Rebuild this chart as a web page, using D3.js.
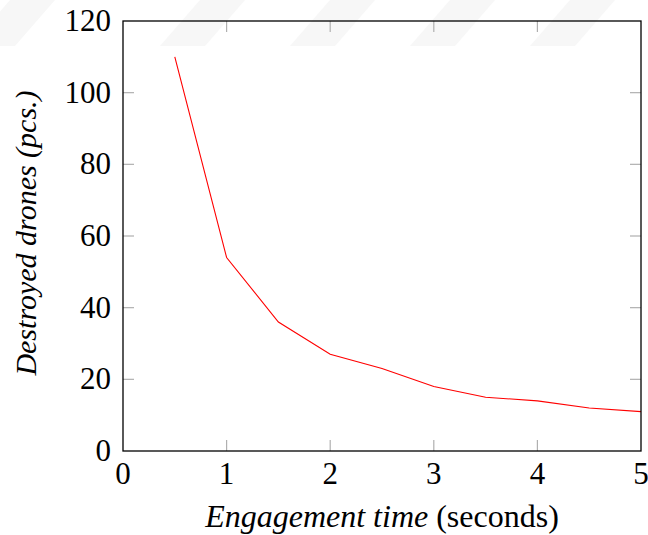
<!DOCTYPE html>
<html>
<head>
<meta charset="utf-8">
<script src="https://cdn.jsdelivr.net/npm/d3@7"></script>
<style>
  body { margin: 0; background: #fff; }
</style>
</head>
<body>
<svg></svg>
<script>
let width = 648;
let height = 535;

// data
let times = [0.5, 1, 1.5, 2, 2.5, 3, 3.5, 4, 4.5, 5];
let destroyed = [110, 54, 36, 27, 23, 18, 15, 14, 12, 11];
let xTicks = [0, 1, 2, 3, 4, 5];
let yTicks = [0, 20, 40, 60, 80, 100, 120];

let serif = "'Liberation Serif', 'Times New Roman', Times, 'Nimbus Roman', serif";
let margin = {top: 21, right: 7, bottom: 84, left: 123};

let svg = d3.select('svg')
    .attr('width', width)
    .attr('height', height)
    .attr('font-family', serif);

// faint watermark bands along the top
let bands = [10, 200, 330, 450, 570];
svg.append('g')
    .selectAll('path')
    .data(bands)
    .enter()
    .append('path')
    .attr('d', d => `M${d - 40},46 L${d},0 L${d + 45},0 L${d + 5},46 Z`)
    .attr('fill', '#f7f7f7');

let x = d3.scaleLinear()
    .domain([0, 5])
    .range([margin.left, width - margin.right]);

let y = d3.scaleLinear()
    .domain([0, 120])
    .range([height - margin.bottom, margin.top]);

let tickLen = 11;
let tickColor = '#b0b0b0';

// inner ticks on all four sides
let ticks = svg.append('g');
ticks.selectAll('line.xb')
    .data(xTicks.slice(1, -1))
    .enter().append('line')
    .attr('x1', d => x(d)).attr('x2', d => x(d))
    .attr('y1', y(0)).attr('y2', y(0) - tickLen);
ticks.selectAll('line.xt')
    .data(xTicks.slice(1, -1))
    .enter().append('line')
    .attr('x1', d => x(d)).attr('x2', d => x(d))
    .attr('y1', y(120)).attr('y2', y(120) + tickLen);
ticks.selectAll('line.yl')
    .data(yTicks.slice(1, -1))
    .enter().append('line')
    .attr('x1', x(0)).attr('x2', x(0) + tickLen)
    .attr('y1', d => y(d)).attr('y2', d => y(d));
ticks.selectAll('line.yr')
    .data(yTicks.slice(1, -1))
    .enter().append('line')
    .attr('x1', x(5)).attr('x2', x(5) - tickLen)
    .attr('y1', d => y(d)).attr('y2', d => y(d));
ticks.selectAll('line')
    .attr('stroke', tickColor)
    .attr('stroke-width', 1.2);

// the line
let line = d3.line()
    .x((d, i) => x(times[i]))
    .y(d => y(d));

svg.append('path')
    .datum(destroyed)
    .attr('d', line)
    .attr('fill', 'none')
    .attr('stroke', '#ff0000')
    .attr('stroke-width', 1.1);

// frame
svg.append('rect')
    .attr('x', x(0))
    .attr('y', y(120))
    .attr('width', x(5) - x(0))
    .attr('height', y(0) - y(120))
    .attr('fill', 'none')
    .attr('stroke', '#000')
    .attr('stroke-width', 1.3);

// tick labels
svg.append('g')
    .selectAll('text')
    .data(xTicks)
    .enter().append('text')
    .attr('x', d => x(d))
    .attr('y', y(0) + 33)
    .attr('text-anchor', 'middle')
    .attr('font-size', 31)
    .text(d => d);

svg.append('g')
    .selectAll('text')
    .data(yTicks)
    .enter().append('text')
    .attr('x', x(0) - 12)
    .attr('y', d => y(d) + 10)
    .attr('text-anchor', 'end')
    .attr('font-size', 31)
    .text(d => d);

// axis titles
let xTitle = svg.append('text')
    .attr('x', (x(0) + x(5)) / 2)
    .attr('y', 527)
    .attr('text-anchor', 'middle')
    .attr('font-size', 32);
xTitle.append('tspan').attr('font-style', 'italic').text('Engagement time');
xTitle.append('tspan').text(' (seconds)');

svg.append('text')
    .attr('transform', 'translate(36, 233) rotate(-90)')
    .attr('text-anchor', 'middle')
    .attr('font-size', 30)
    .attr('font-style', 'italic')
    .text('Destroyed drones (pcs.)');
</script>
</body>
</html>
